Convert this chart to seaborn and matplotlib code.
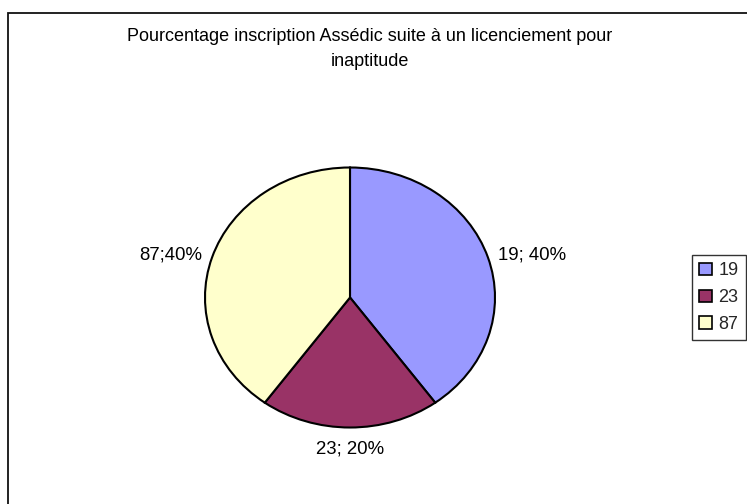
import matplotlib
matplotlib.use("Agg")
import matplotlib.pyplot as plt
from matplotlib.patches import Rectangle, Patch
import numpy as np
import seaborn as sns

# data
categories = ["19", "23", "87"]
shares = [40, 20, 40]
labels = ["19; 40%", "23; 20%", "87;40%"]
colors = ["#9999FF", "#993366", "#FFFFCC"]
title = "Pourcentage inscription Assédic suite à un licenciement pour\ninaptitude"

sns.set_theme(style="white")
plt.rcParams["font.family"] = ["Liberation Sans", "DejaVu Sans"]

W, H = 747, 504
fig = plt.figure(figsize=(W / 100, H / 100), dpi=100)
fig.patch.set_facecolor("white")

# pie ellipse in pixels: centre (350, 297.5), radii 145 x 130
cx, cy, rx, ry, m = 350, 297.5, 145, 130, 1.03
ax = fig.add_axes([(cx - rx * m) / W, (H - cy - ry * m) / H, 2 * rx * m / W, 2 * ry * m / H])

wedges, _ = ax.pie(shares, colors=colors, startangle=90, counterclock=False,
                   wedgeprops=dict(edgecolor="black", linewidth=1.5))
ax.set_aspect("auto")
ax.set_xlim(-m, m)
ax.set_ylim(-m, m)
ax.axis("off")

for w, lab in zip(wedges, labels):
    a = np.deg2rad((w.theta1 + w.theta2) / 2)
    c, s = np.cos(a), np.sin(a)
    ha = "left" if c > 0.1 else ("right" if c < -0.1 else "center")
    va = "top" if s < -0.9 else "center"
    r = 1.1 if s < -0.9 else 1.07
    ax.text(r * c, r * s, lab, ha=ha, va=va, fontsize=13.4, color="black")

fig.text(370 / W, 1 - 28 / H, title, ha="center", va="top", fontsize=13,
         linespacing=1.62, color="black")

handles = [Patch(facecolor=col, edgecolor="black", linewidth=1.2) for col in colors]
leg = fig.legend(handles, categories, loc="upper left",
                 bbox_to_anchor=(692 / W, 1 - 255 / H), borderaxespad=0,
                 fontsize=13, frameon=True, fancybox=False, edgecolor="black",
                 handlelength=0.7, handleheight=0.7, handletextpad=0.35,
                 labelspacing=0.55, borderpad=0.4)
leg.get_frame().set_linewidth(1.0)

# chart area border (cropped at right and bottom)
fig.add_artist(Rectangle((8 / W, -0.1), 1.2, 1 - 13 / H + 0.1, transform=fig.transFigure,
                         fill=False, edgecolor="#111111", linewidth=1.3))

fig.savefig("out.png", dpi=100)
